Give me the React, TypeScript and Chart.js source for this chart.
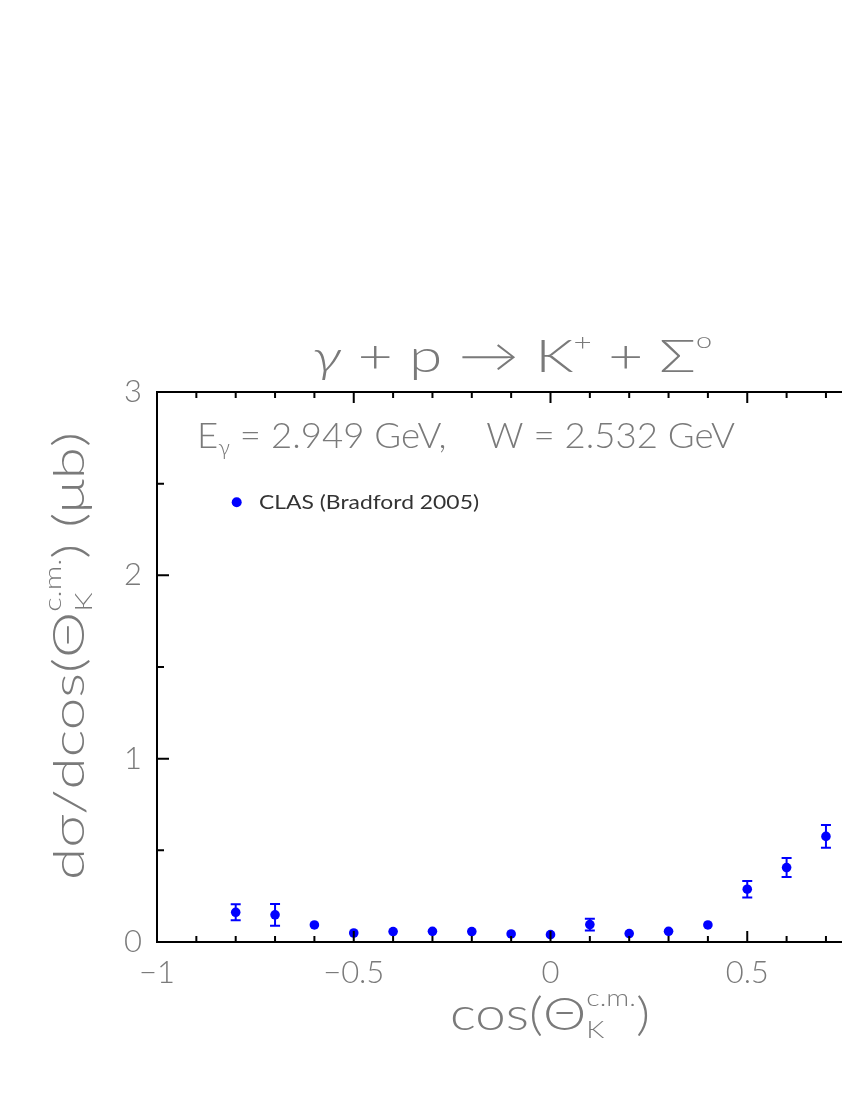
import React, { useEffect, useRef } from "react";
import { Chart, registerables } from "chart.js";

Chart.register(...registerables);

// ---- data ----
const cosTheta = [-0.8, -0.7, -0.6, -0.5, -0.4, -0.3, -0.2, -0.1, 0.0, 0.1, 0.2, 0.3, 0.4, 0.5, 0.6, 0.7];
const dSigma = [0.162, 0.148, 0.093, 0.049, 0.057, 0.058, 0.057, 0.044, 0.040, 0.095, 0.046, 0.058, 0.093, 0.288, 0.406, 0.576];
const dSigmaErr = [0.044, 0.059, 0.012, 0.01, 0.01, 0.01, 0.01, 0.01, 0.01, 0.032, 0.01, 0.01, 0.012, 0.045, 0.052, 0.062];
const seriesLabel = "CLAS (Bradford 2005)";
const xMajorTicks = [-1, -0.5, 0, 0.5, 1];
const yMajorTicks = [0, 1, 2, 3];
const cornerNote = "c";

const BLUE = "#0000ff";
const GREY = "#7a7a7a";
const FAMILY = "Lato, 'DejaVu Sans', sans-serif";

const W = 1000;
const H = 1084;

type Run = { t?: string; size: number; dy?: number; italic?: boolean; sub?: string; sup?: string; subSize?: number; supSize?: number; subDy?: number; supDy?: number };

function fontOf(size: number, italic?: boolean, weight = "300") {
  return `${italic ? "italic " : ""}${weight} ${size}px ${FAMILY}`;
}

function runWidth(ctx: CanvasRenderingContext2D, r: Run, weight: string) {
  if (r.sub !== undefined || r.sup !== undefined) {
    ctx.font = fontOf(r.subSize || r.size, false, weight);
    const a = ctx.measureText(r.sub || "").width;
    ctx.font = fontOf(r.supSize || r.size, false, weight);
    const b = ctx.measureText(r.sup || "").width;
    return Math.max(a, b);
  }
  ctx.font = fontOf(r.size, r.italic, weight);
  return ctx.measureText(r.t || "").width;
}

function drawRuns(
  ctx: CanvasRenderingContext2D,
  runs: Run[],
  x: number,
  y: number,
  opts: { align: "left" | "center"; target?: number; color: string; weight?: string }
) {
  const weight = opts.weight || "300";
  const widths = runs.map((r) => runWidth(ctx, r, weight));
  const total = widths.reduce((a, b) => a + b, 0);
  const sx = opts.target ? opts.target / total : 1;
  ctx.save();
  ctx.translate(x, y);
  ctx.scale(sx, 1);
  let cx = opts.align === "center" ? -total / 2 : 0;
  ctx.fillStyle = opts.color;
  ctx.textBaseline = "alphabetic";
  ctx.textAlign = "left";
  runs.forEach((r, i) => {
    if (r.sub !== undefined || r.sup !== undefined) {
      if (r.sub) {
        ctx.font = fontOf(r.subSize || r.size, false, weight);
        ctx.fillText(r.sub, cx, r.subDy || 0);
      }
      if (r.sup) {
        ctx.font = fontOf(r.supSize || r.size, false, weight);
        ctx.fillText(r.sup, cx, r.supDy || 0);
      }
    } else {
      ctx.font = fontOf(r.size, r.italic, weight);
      ctx.fillText(r.t || "", cx, r.dy || 0);
    }
    cx += widths[i];
  });
  ctx.restore();
}

const isMajorX = (v: number) => xMajorTicks.some((m) => Math.abs(m - v) < 1e-6);
const isMajorY = (v: number) => yMajorTicks.some((m) => Math.abs(m - v) < 1e-6);
const fmt = (v: number) => {
  const r = Math.round(v * 10) / 10;
  return r < 0 ? "\u2212" + String(Math.abs(r)) : String(r);
};

const framePlugin = {
  id: "framePlugin",
  beforeDatasetsDraw(chart: any) {
    const ctx: CanvasRenderingContext2D = chart.ctx;
    const xs = chart.scales.x;
    const ys = chart.scales.y;
    ctx.save();
    ctx.strokeStyle = BLUE;
    ctx.lineWidth = 2;
    const rPx = 4.5;
    cosTheta.forEach((c, i) => {
      const px = xs.getPixelForValue(c);
      const yTop = ys.getPixelForValue(dSigma[i] + dSigmaErr[i]);
      const yBot = ys.getPixelForValue(dSigma[i] - dSigmaErr[i]);
      const yc = ys.getPixelForValue(dSigma[i]);
      ctx.beginPath();
      ctx.moveTo(px, yTop);
      ctx.lineTo(px, yBot);
      ctx.stroke();
      if (yc - yTop > rPx) {
        ctx.beginPath();
        ctx.moveTo(px - 5, yTop);
        ctx.lineTo(px + 5, yTop);
        ctx.moveTo(px - 5, yBot);
        ctx.lineTo(px + 5, yBot);
        ctx.stroke();
      }
    });
    ctx.restore();
  },
  afterDraw(chart: any) {
    const ctx: CanvasRenderingContext2D = chart.ctx;
    const a = chart.chartArea;
    const xs = chart.scales.x;
    const ys = chart.scales.y;
    ctx.save();
    ctx.strokeStyle = "#000";
    ctx.lineWidth = 2;
    // frame: bottom, top & right
    ctx.beginPath();
    ctx.moveTo(a.left, a.bottom);
    ctx.lineTo(a.right, a.bottom);
    ctx.lineTo(a.right, a.top);
    ctx.lineTo(a.left, a.top);
    ctx.stroke();
    // x ticks (inward, bottom & top)
    xs.ticks.forEach((t: any) => {
      const px = xs.getPixelForValue(t.value);
      const len = isMajorX(t.value) ? 11 : 6;
      ctx.beginPath();
      ctx.moveTo(px, a.bottom);
      ctx.lineTo(px, a.bottom - len);
      ctx.moveTo(px, a.top);
      ctx.lineTo(px, a.top + len);
      ctx.stroke();
    });
    // y ticks (inward, left & right)
    ys.ticks.forEach((t: any) => {
      const py = ys.getPixelForValue(t.value);
      const len = isMajorY(t.value) ? 12 : 7;
      ctx.beginPath();
      ctx.moveTo(a.left, py);
      ctx.lineTo(a.left + len, py);
      ctx.moveTo(a.right, py);
      ctx.lineTo(a.right - len, py);
      ctx.stroke();
    });
    ctx.restore();

    // Title
    drawRuns(
      ctx,
      [
        { t: "\u03b3", size: 46, italic: true },
        { t: " + p \u2192 K", size: 46 },
        { t: "+", size: 24, dy: -22 },
        { t: " + \u03a3", size: 46 },
        { t: "o", size: 22, dy: -24 },
      ],
      504,
      364,
      { align: "center", target: 400, color: GREY }
    );

    // Energy annotation
    drawRuns(
      ctx,
      [
        { t: "E", size: 36 },
        { t: "\u03b3", size: 22, dy: 7 },
        { t: " = 2.949 GeV,    W = 2.532 GeV", size: 36 },
      ],
      189,
      440,
      { align: "left", target: 538, color: GREY }
    );

    // Legend
    ctx.save();
    ctx.fillStyle = BLUE;
    ctx.beginPath();
    ctx.arc(228.7, 494.3, 5, 0, Math.PI * 2);
    ctx.fill();
    ctx.restore();
    drawRuns(ctx, [{ t: seriesLabel, size: 19 }], 251, 501, {
      align: "left",
      target: 220,
      color: "#333",
      weight: "400",
    });

    // X axis title
    drawRuns(
      ctx,
      [
        { t: "cos(\u0398", size: 46 },
        { sub: "K", sup: "c.m.", size: 46, subSize: 24, supSize: 24, subDy: 8, supDy: -24 },
        { t: ")", size: 46 },
      ],
      542,
      1022,
      { align: "center", target: 200, color: GREY }
    );

    // small cut-off note at the lower right edge
    drawRuns(ctx, [{ t: cornerNote, size: 13 }], 838, 1031, { align: "left", color: GREY });

    // Y axis title (rotated)
    ctx.save();
    ctx.translate(76, 648);
    ctx.rotate(-Math.PI / 2);
    drawRuns(
      ctx,
      [
        { t: "d\u03c3/dcos(\u0398", size: 44 },
        { sub: "K", sup: "c.m.", size: 44, subSize: 23, supSize: 23, subDy: 8, supDy: -23 },
        { t: ") (\u03bcb)", size: 44 },
      ],
      0,
      0,
      { align: "center", target: 448, color: GREY }
    );
    ctx.restore();
  },
};

export default function App() {
  const ref = useRef<HTMLCanvasElement | null>(null);
  useEffect(() => {
    const prevHtml = document.documentElement.style.overflow;
    const prevBody = document.body.style.overflow;
    document.documentElement.style.overflow = "hidden";
    document.body.style.overflow = "hidden";
    if (!ref.current) return;
    const chart = new Chart(ref.current, {
      type: "scatter",
      data: {
        datasets: [
          {
            label: seriesLabel,
            data: cosTheta.map((c, i) => ({ x: c, y: dSigma[i] })),
            backgroundColor: BLUE,
            borderColor: BLUE,
            borderWidth: 0,
            pointRadius: 4.8,
            pointHoverRadius: 4.8,
          },
        ],
      },
      options: {
        animation: false,
        responsive: false,
        maintainAspectRatio: false,
        events: [],
        layout: { padding: { top: 384, right: 64, left: 0, bottom: 0 } },
        plugins: {
          legend: { display: false },
          tooltip: { enabled: false },
          title: { display: false },
        },
        scales: {
          x: {
            type: "linear",
            min: -1,
            max: 1,
            afterFit: (s: any) => {
              s.height = 150;
            },
            grid: { display: false, drawTicks: false },
            border: { display: true, color: "#000", width: 2 },
            ticks: {
              stepSize: 0.1,
              autoSkip: false,
              maxRotation: 0,
              minRotation: 0,
              padding: 12,
              color: GREY,
              font: { family: FAMILY, size: 31, weight: "300" },
              callback: (v: any) => (isMajorX(Number(v)) ? fmt(Number(v)) : ""),
            },
          },
          y: {
            type: "linear",
            min: 0,
            max: 3,
            afterFit: (s: any) => {
              s.width = 149;
            },
            grid: { display: false, drawTicks: false },
            border: { display: true, color: "#000", width: 2 },
            ticks: {
              stepSize: 0.5,
              autoSkip: false,
              padding: 15,
              color: GREY,
              font: { family: FAMILY, size: 31, weight: "300" },
              callback: (v: any) => (isMajorY(Number(v)) ? fmt(Number(v)) : ""),
            },
          },
        },
      },
      plugins: [framePlugin],
    } as any);
    return () => {
      chart.destroy();
      document.documentElement.style.overflow = prevHtml;
      document.body.style.overflow = prevBody;
    };
  }, []);
  return (
    <div style={{ width: W, height: H }}>
      <canvas ref={ref} width={W} height={H} style={{ width: W, height: H, display: "block" }} />
    </div>
  );
}
